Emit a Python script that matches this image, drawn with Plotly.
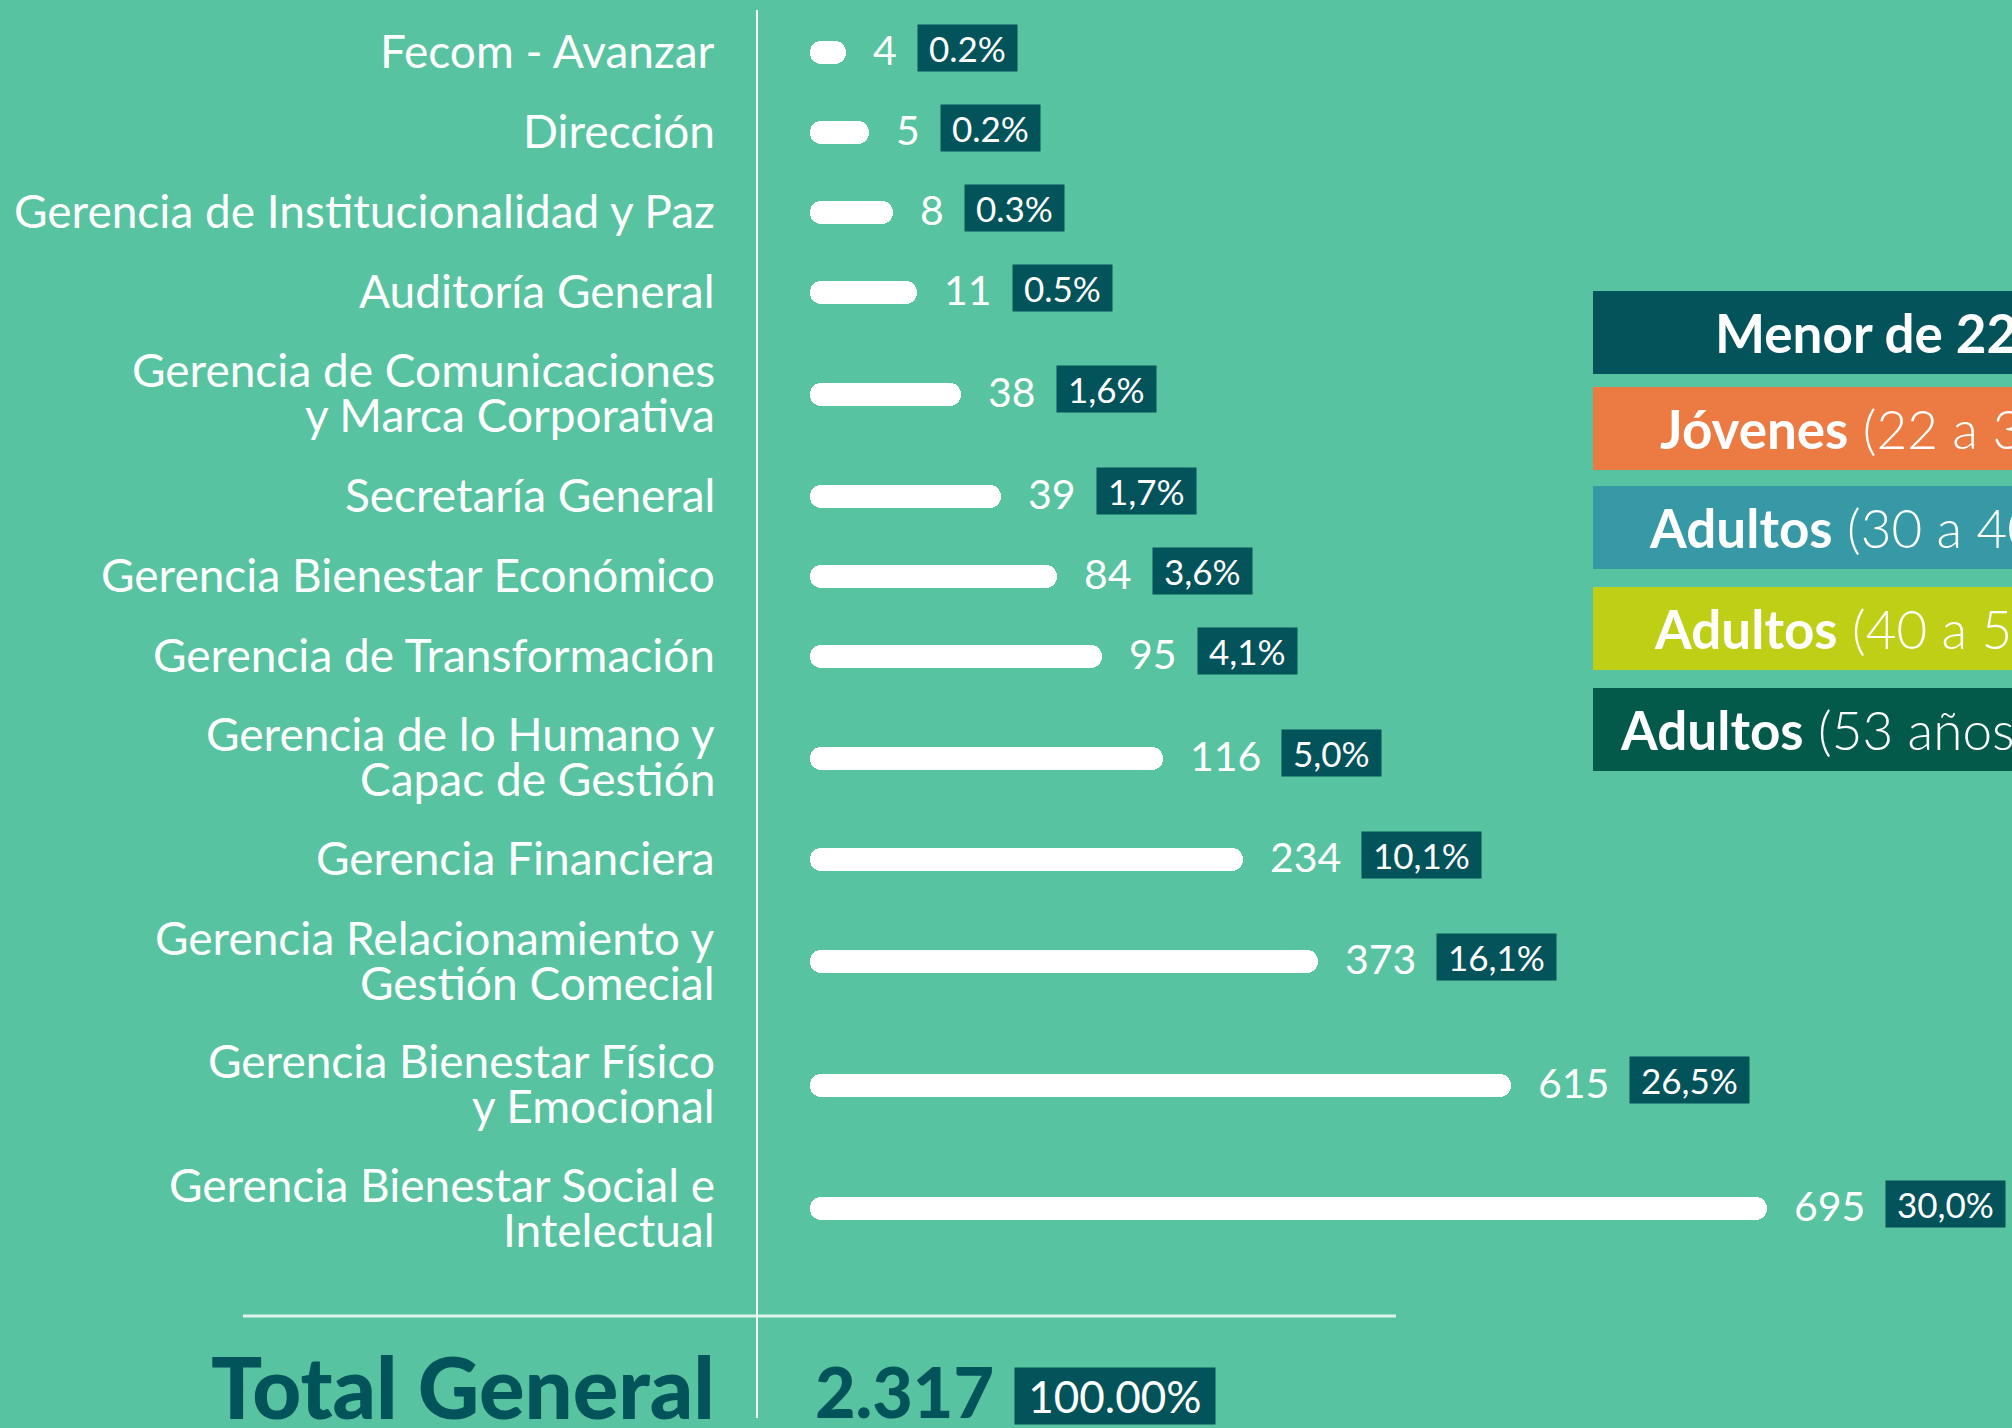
import plotly.graph_objects as go

# ---------------- data ----------------
categories = [
    "Fecom - Avanzar",
    "Dirección",
    "Gerencia de Institucionalidad y Paz",
    "Auditoría General",
    "Gerencia de Comunicaciones<br>y Marca Corporativa",
    "Secretaría General",
    "Gerencia Bienestar Económico",
    "Gerencia de Transformación",
    "Gerencia de lo Humano y<br>Capac de Gestión",
    "Gerencia Financiera",
    "Gerencia Relacionamiento y<br>Gestión Comecial",
    "Gerencia Bienestar Físico<br>y Emocional",
    "Gerencia Bienestar Social e<br>Intelectual",
]
counts = [4, 5, 8, 11, 38, 39, 84, 95, 116, 234, 373, 615, 695]
percent_labels = ["0.2%", "0.2%", "0.3%", "0.5%", "1,6%", "1,7%", "3,6%",
                  "4,1%", "5,0%", "10,1%", "16,1%", "26,5%", "30,0%"]
# bar lengths as drawn in the infographic (the design is not proportional to counts)
bar_lengths = [36, 59, 83, 107, 151, 191, 247, 292, 353, 433, 508, 701, 957]

total_label = "Total General"
total_count = "2.317"
total_percent = "100.00%"

legend_bold = ["Menor de 22 años", "Jóvenes", "Adultos", "Adultos", "Adultos"]
legend_rest = ["", " (22 a 30 años)", " (30 a 40 años)", " (40 a 53 años)", " (53 años o más)"]
legend_colors = ["#03535A", "#EB7B42", "#3699A5", "#BFCF16", "#035A4A"]

# ---------------- style / layout constants ----------------
W, H = 2012, 1428
BG = "#57C3A0"
DARK = "#03535A"
WHITE = "#FFFFFF"
FONT = "Lato, 'Open Sans', sans-serif"
BAR_X0 = 810          # pixel where bars start
BAR_T = 23            # bar thickness (px)
LABEL_RIGHT = 717     # right edge of category labels
TOP = 52.6            # centre of first row
ROW_H = {1: 80, 2: 123.6}


def px(x):
    return x / W


def py(y):
    return 1 - y / H


# row centres computed from the number of label lines
nlines = [c.count("<br>") + 1 for c in categories]
pos = [TOP]
for i in range(1, len(categories)):
    pos.append(pos[-1] + (ROW_H[nlines[i - 1]] + ROW_H[nlines[i]]) / 2)

fig = go.Figure()
# pill-shaped bars (explicit base -> both ends rounded)
fig.add_trace(go.Bar(
    x=bar_lengths, base=[0] * len(bar_lengths), y=pos,
    orientation="h", width=BAR_T,
    marker=dict(color=WHITE, cornerradius="50%", line=dict(width=0)),
    hoverinfo="skip", showlegend=False,
))

annotations = []
for i, cat in enumerate(categories):
    lines = cat.split("<br>")
    n = len(lines)
    for j, line in enumerate(lines):
        shift = ((n - 1) / 2 - j) * 45 + 2
        annotations.append(dict(
            text=line, xref="paper", x=px(LABEL_RIGHT), xanchor="right",
            yref="y", y=pos[i], yanchor="middle", yshift=shift,
            showarrow=False, font=dict(family=FONT, size=46, color=WHITE)))
    # count value
    annotations.append(dict(
        text=str(counts[i]), xref="x", x=bar_lengths[i], xanchor="left", xshift=25,
        yref="y", y=pos[i], yanchor="middle", yshift=3,
        showarrow=False, font=dict(family=FONT, size=41, color=WHITE)))
    # percentage badge
    nd = len(str(counts[i]))
    annotations.append(dict(
        text="\u00a0" + percent_labels[i] + "\u00a0",
        xref="x", x=bar_lengths[i], xanchor="left", xshift=25 + nd * 23.8 + 22,
        yref="y", y=pos[i], yanchor="middle", yshift=5,
        bgcolor=DARK, borderpad=2, showarrow=False,
        font=dict(family=FONT, size=35, color=WHITE)))

# total row
annotations.append(dict(
    text=total_label, xref="paper", x=px(LABEL_RIGHT), xanchor="right",
    yref="paper", y=py(1386), yanchor="middle", showarrow=False,
    font=dict(family=FONT, size=85, color=DARK, weight=900)))
annotations.append(dict(
    text=total_count, xref="paper", x=px(813), xanchor="left",
    yref="paper", y=py(1391), yanchor="middle", showarrow=False,
    font=dict(family=FONT, size=70, color=DARK, weight=900)))
annotations.append(dict(
    text="\u00a0" + total_percent + "\u00a0", xref="paper", x=px(1014), xanchor="left",
    yref="paper", y=py(1396), yanchor="middle", showarrow=False,
    bgcolor=DARK, borderpad=2, font=dict(family=FONT, size=44, color=WHITE)))

shapes = [
    dict(type="line", xref="paper", yref="paper", x0=px(757), x1=px(757),
         y0=py(10), y1=py(1418), line=dict(color="#F2FBF8", width=2)),
    dict(type="line", xref="paper", yref="paper", x0=px(243), x1=px(1396),
         y0=py(1316), y1=py(1316), line=dict(color="#DDF3EC", width=3)),
]

# age-group legend boxes (cut by the right edge in the original)
box_tops = [291, 387, 486, 587, 688]
text_x = [1713, 1658, 1647, 1652, 1618]
for k in range(len(legend_bold)):
    t0 = box_tops[k]
    shapes.append(dict(type="rect", xref="paper", yref="paper",
                       x0=px(1593), x1=px(W + 200), y0=py(t0), y1=py(t0 + 83),
                       fillcolor=legend_colors[k], line=dict(width=0), layer="below"))
    annotations.append(dict(
        text="<b>" + legend_bold[k] + "</b>" + legend_rest[k],
        xref="paper", x=px(text_x[k]), xanchor="left",
        yref="paper", y=py(t0 + 41.5), yanchor="middle", showarrow=False,
        font=dict(family=FONT, size=53, color=WHITE, weight=300)))

fig.update_layout(
    width=W, height=H,
    margin=dict(l=0, r=0, t=0, b=0, pad=0),
    paper_bgcolor=BG, plot_bgcolor=BG,
    xaxis=dict(visible=False, range=[-BAR_X0, W - BAR_X0], fixedrange=True),
    yaxis=dict(visible=False, range=[H, 0], fixedrange=True),
    shapes=shapes, annotations=annotations,
    showlegend=False, bargap=0, barmode="overlay",
)

fig.write_html(
    "out.html",
    config={"displayModeBar": False},
    post_script="document.body.style.margin='0';document.body.style.overflow='hidden';",
)
